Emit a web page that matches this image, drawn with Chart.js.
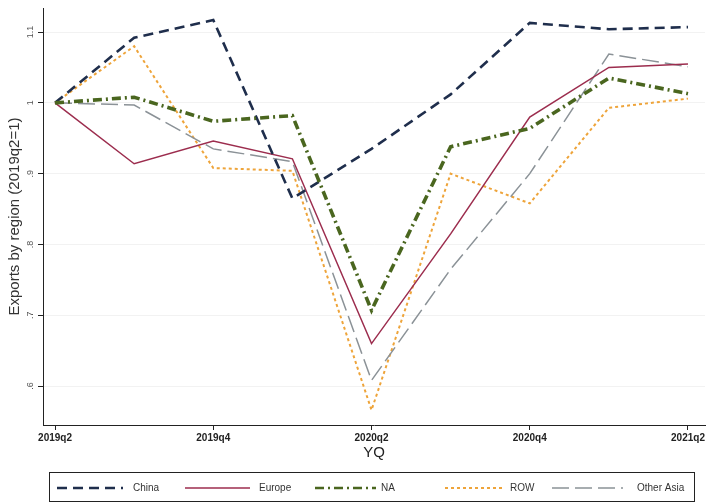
<!DOCTYPE html>
<html>
<head>
<meta charset="utf-8">
<title>Exports by region</title>
<script src="https://cdn.jsdelivr.net/npm/chart.js@4/dist/chart.umd.min.js"></script>
<style>
  html, body { margin: 0; padding: 0; background: #fff; }
  #wrap { width: 709px; height: 503px; }
</style>
</head>
<body>
<div id="wrap"><canvas id="cnvs_line"></canvas></div>
<script>
// quarters on the x axis
const quarters = ['2019q2', '2019q3', '2019q4', '2020q1', '2020q2', '2020q3', '2020q4', '2021q1', '2021q2'];
const xTickIdx = [0, 2, 4, 6, 8];

// exports index, 2019q2 = 1
const china     = [1.000, 1.092, 1.117, 0.865, 0.935, 1.012, 1.113, 1.104, 1.107];
const europe    = [1.000, 0.914, 0.946, 0.921, 0.660, 0.815, 0.980, 1.050, 1.055];
const na        = [1.000, 1.008, 0.974, 0.982, 0.707, 0.938, 0.964, 1.035, 1.013];
const row       = [1.000, 1.080, 0.908, 0.904, 0.566, 0.900, 0.858, 0.993, 1.006];
const otherAsia = [1.000, 0.997, 0.935, 0.917, 0.608, 0.765, 0.900, 1.069, 1.051];

const yTicks = [0.6, 0.7, 0.8, 0.9, 1.0, 1.1];
const yTickLabels = ['.6', '.7', '.8', '.9', '1', '1.1'];

const FONT = "'Liberation Sans', Arial, sans-serif";

function pts(arr) {
  return arr.map(function(v, i) { return {x: i, y: v}; });
}

const datasets = [
  {label: 'China', data: pts(china), borderColor: '#1f2e4c', borderWidth: 2.6, borderDash: [10, 6], order: 1},
  {label: 'Europe', data: pts(europe), borderColor: '#9c2d4e', borderWidth: 1.5, borderDash: [], order: 2},
  {label: 'NA', data: pts(na), borderColor: '#4a661f', borderWidth: 3.6, borderDash: [9, 4, 2, 4], order: 0},
  {label: 'ROW', data: pts(row), borderColor: '#eea43a', borderWidth: 2, borderDash: [3, 3], order: 4},
  {label: 'Other Asia', data: pts(otherAsia), borderColor: '#8b9297', borderWidth: 1.5, borderDash: [17, 6], order: 3}
];
datasets.forEach(function(d) {
  d.pointRadius = 0;
  d.tension = 0;
  d.fill = false;
  d.backgroundColor = d.borderColor;
});

// legend layout (line start, line length, text x)
const legendItems = [
  {line: 57, len: 66, text: 133},
  {line: 185, len: 65, text: 259},
  {line: 315, len: 61, text: 381},
  {line: 445, len: 58, text: 510},
  {line: 552, len: 71, text: 637}
];

const extrasPlugin = {
  id: 'extras',
  afterDraw(chart) {
    const ctx = chart.ctx;
    const y = chart.scales.y;
    ctx.save();
    // rotated y tick labels
    ctx.fillStyle = '#555';
    ctx.font = '9px ' + FONT;
    ctx.textAlign = 'center';
    ctx.textBaseline = 'middle';
    yTicks.forEach(function(v, i) {
      const py = y.getPixelForValue(v);
      ctx.save();
      ctx.translate(31, py);
      ctx.rotate(-Math.PI / 2);
      ctx.fillText(yTickLabels[i], 0, 0);
      ctx.restore();
    });

    // legend box
    ctx.strokeStyle = '#222';
    ctx.lineWidth = 1;
    ctx.setLineDash([]);
    ctx.strokeRect(49.5, 472.5, 645, 29);
    const ly = 488;
    chart.data.datasets.forEach(function(d, i) {
      const it = legendItems[i];
      ctx.save();
      ctx.strokeStyle = d.borderColor;
      ctx.lineWidth = Math.min(d.borderWidth, 2.6);
      ctx.setLineDash(d.borderDash);
      ctx.beginPath();
      ctx.moveTo(it.line, ly);
      ctx.lineTo(it.line + it.len, ly);
      ctx.stroke();
      ctx.restore();
      ctx.fillStyle = '#333';
      ctx.font = '10px ' + FONT;
      ctx.textAlign = 'left';
      ctx.textBaseline = 'middle';
      ctx.fillText(d.label, it.text, ly);
    });
    ctx.restore();
  }
};

new Chart(document.getElementById('cnvs_line').getContext('2d'), {
  type: 'line',
  data: {datasets: datasets},
  plugins: [extrasPlugin],
  options: {
    responsive: true,
    maintainAspectRatio: false,
    animation: false,
    layout: {padding: {left: 0, right: 4, top: 8, bottom: 0}},
    plugins: {legend: {display: false}, tooltip: {enabled: false}},
    scales: {
      x: {
        type: 'linear',
        min: -0.152,
        max: 8.215,
        afterBuildTicks: function(scale) {
          scale.ticks = xTickIdx.map(function(v) { return {value: v}; });
        },
        afterFit: function(scale) { scale.height = 78; },
        ticks: {
          autoSkip: false,
          maxRotation: 0,
          padding: 2,
          color: '#222',
          font: {family: FONT, size: 10, weight: 'bold'},
          callback: function(v) { return quarters[v]; }
        },
        grid: {drawOnChartArea: false, drawTicks: true, tickLength: 5, tickColor: '#222'},
        border: {color: '#222', width: 1},
        title: {
          display: true,
          text: 'YQ',
          color: '#222',
          font: {family: FONT, size: 15},
          padding: {top: 0, bottom: 41}
        }
      },
      y: {
        min: 0.545,
        max: 1.134,
        afterBuildTicks: function(scale) {
          scale.ticks = yTicks.map(function(v) { return {value: v}; });
        },
        afterFit: function(scale) { scale.width = 43; },
        ticks: {display: false},
        grid: {color: 'rgba(0,0,0,0.05)', drawTicks: true, tickLength: 5, tickColor: '#222'},
        border: {color: '#222', width: 1},
        title: {
          display: true,
          text: 'Exports by region (2019q2=1)',
          color: '#333',
          font: {family: FONT, size: 15},
          padding: {top: 6, bottom: 0}
        }
      }
    }
  }
});
</script>
</body>
</html>
